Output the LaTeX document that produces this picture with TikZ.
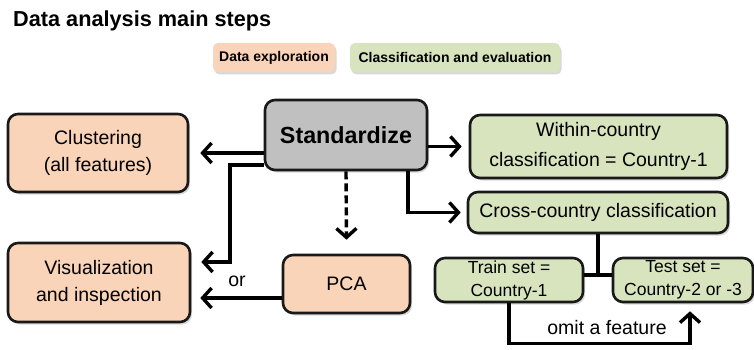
\documentclass[tikz,border=0pt]{standalone}
\usepackage{fontspec}
\setmainfont{Liberation Sans}
\usetikzlibrary{arrows.meta,shadows,calc}
\definecolor{peach}{RGB}{250,212,184}
\definecolor{sage}{RGB}{215,228,189}
\definecolor{stdgray}{RGB}{192,192,192}
\definecolor{edge}{RGB}{25,25,25}
\tikzset{
  box/.style={draw=edge, line width=2.6pt, rounded corners=10pt, align=center,
    inner sep=0pt, font=\fontsize{19.5}{27}\selectfont,
    drop shadow={shadow xshift=2pt, shadow yshift=-2.5pt, opacity=0.3}},
  explore/.style={box, fill=peach},
  classify/.style={box, fill=sage},
  legendbox/.style={rounded corners=5pt, inner sep=0pt, minimum height=29pt,
    font=\fontsize{14}{16}\selectfont\bfseries,
    drop shadow={shadow xshift=1.5pt, shadow yshift=-2.5pt, opacity=0.3}},
  link/.style={draw=black, line width=3.4pt},
  arr/.style={link, -{Straight Barb[length=9pt,width=20pt,line width=3.4pt]}},
  lbl/.style={font=\fontsize{19.5}{22}\selectfont, inner sep=0pt}
}
\begin{document}
\begin{tikzpicture}[x=1pt,y=-1pt]
\useasboundingbox (0,0) rectangle (754,350);

% heading and legend
\node[anchor=base west, inner sep=0pt, font=\fontsize{21.7}{24}\selectfont\bfseries]
  (title) at (13,27) {Data analysis main steps};
\node[legendbox, fill=peach, minimum width=122pt] (legA) at (274,57.5) {Data exploration};
\node[legendbox, fill=sage, minimum width=210pt] (legB) at (455,57.5) {Classification and evaluation};

% main boxes
\node[box, fill=stdgray, minimum width=162pt, minimum height=70pt,
  font=\fontsize{23.3}{26}\selectfont\bfseries] (std) at (346,135) {Standardize};
\node[explore, minimum width=180pt, minimum height=78pt] (clust) at (98,153) {Clustering\\(all features)};
\node[explore, minimum width=182pt, minimum height=79pt] (vis) at (99,282.5) {Visualization\\and inspection};
\node[explore, minimum width=127pt, minimum height=58pt] (pca) at (346.5,284) {PCA};
\node[classify, minimum width=257pt, minimum height=63pt, font=\fontsize{19.5}{30}\selectfont]
  (within) at (598.5,146.5) {Within-country\\classification = Country-1};
\node[classify, minimum width=260pt, minimum height=41pt] (cross) at (598,212.5) {Cross-country classification};
\node[classify, minimum width=148pt, minimum height=44pt, font=\fontsize{17.5}{23}\selectfont]
  (train) at (509,280) {Train set =\\Country-1};
\node[classify, minimum width=140pt, minimum height=44pt, font=\fontsize{17.5}{23}\selectfont]
  (test) at (683,280) {Test set =\\Country-2 or -3};

% connectors
\draw[arr] (std.west |- clust.east) -- ([xshift=11pt]clust.east);
\coordinate (bend) at (230,262);
\draw[arr] ([yshift=-30pt]std.west) -| (bend) -- ([xshift=10pt,yshift=20.5pt]vis.east);
\draw[arr, dash pattern=on 8pt off 4pt] (std.south) -- ([yshift=14pt]pca.north);
\draw[arr] ([yshift=-14pt]pca.west) -- ([xshift=9pt,yshift=-15.5pt]vis.east);
\node[lbl] (or) at (237,281) {or};
\draw[arr] (std.east |- within.west) -- ([xshift=-7pt]within.west);
\draw[arr] ([xshift=62pt]std.south) |- ([xshift=-6pt]cross.west);
\path ([yshift=5pt]train.east) coordinate (trE) ([yshift=5pt]test.west) coordinate (teW);
\draw[link] (trE) -- (teW);
\draw[link] (cross.south) -- (cross.south |- trE);
\draw[arr] (train.south) -- ++(0,40) -| ([xshift=7pt,yshift=-8pt]test.south);
\node[lbl] (omit) at (607,328) {omit a feature};
\end{tikzpicture}
\end{document}
